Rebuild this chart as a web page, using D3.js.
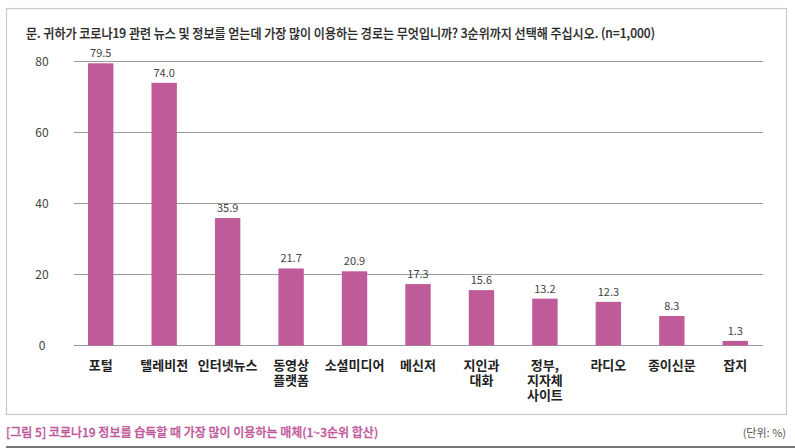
<!DOCTYPE html>
<html>
<head>
<meta charset="utf-8">
<script src="https://cdn.jsdelivr.net/npm/d3@7"></script>
<style>
  body { margin: 0; background: #fff; }
  svg text { font-family: "Noto Sans CJK KR", "Noto Sans", sans-serif; }
</style>
</head>
<body>
<div id="chart"></div>
<script>
const categories = ['포털', '텔레비전', '인터넷뉴스', '동영상\n플랫폼', '소셜미디어', '메신저', '지인과\n대화', '정부,\n지자체\n사이트', '라디오', '종이신문', '잡지'];
const values = [79.5, 74.0, 35.9, 21.7, 20.9, 17.3, 15.6, 13.2, 12.3, 8.3, 1.3];
const yTicks = [0, 20, 40, 60, 80];

const title = '문. 귀하가 코로나19 관련 뉴스 및 정보를 얻는데 가장 많이 이용하는 경로는 무엇입니까? 3순위까지 선택해 주십시오. (n=1,000)';
const caption = '[그림 5] 코로나19 정보를 습득할 때 가장 많이 이용하는 매체(1~3순위 합산)';
const unit = '(단위: %)';

const W = 795, H = 448;
const svg = d3.select('#chart').append('svg')
    .attr('width', W)
    .attr('height', H);

// frame
svg.append('rect')
    .attr('x', 6.5).attr('y', 8.5)
    .attr('width', 780).attr('height', 406)
    .attr('fill', 'none')
    .attr('stroke', '#c8c8c8')
    .attr('stroke-width', 1.2);

svg.append('text')
    .attr('x', 26).attr('y', 38)
    .attr('font-size', 13)
    .attr('font-weight', 500)
    .attr('fill', '#2a2a2a')
    .attr('stroke', '#2a2a2a')
    .attr('stroke-width', 0.2)
    .attr('textLength', 629)
    .attr('lengthAdjust', 'spacingAndGlyphs')
    .text(title);

const x = d3.scaleBand()
    .domain(categories)
    .range([69, 767])
    .paddingInner(0.6)
    .paddingOuter(0.3);

const y = d3.scaleLinear()
    .domain([0, 80])
    .range([345.5, 61.5]);

// grid
const grid = svg.append('g');
grid.selectAll('line')
    .data(yTicks)
    .join('line')
    .attr('x1', 74).attr('x2', 763)
    .attr('y1', d => y(d)).attr('y2', d => y(d))
    .attr('stroke', '#9a9a9a')
    .attr('stroke-width', 1.2);

grid.selectAll('text')
    .data(yTicks)
    .join('text')
    .attr('x', 42).attr('y', d => y(d) + 4)
    .attr('text-anchor', 'middle')
    .attr('font-size', 12)
    .attr('fill', '#444')
    .text(d => d);

svg.append('g').selectAll('rect')
    .data(values)
    .join('rect')
    .attr('x', (d, i) => x(categories[i]))
    .attr('width', x.bandwidth())
    .attr('y', d => y(d))
    .attr('height', d => y(0) - y(d))
    .attr('fill', '#bf5b98');

svg.append('g').selectAll('text')
    .data(values)
    .join('text')
    .attr('x', (d, i) => x(categories[i]) + x.bandwidth() / 2)
    .attr('y', d => y(d) - 6)
    .attr('text-anchor', 'middle')
    .attr('font-size', 11)
    .attr('fill', '#444')
    .text(d => d.toFixed(1));

// category labels, one text per line
const lines = categories.flatMap(c => c.split('\n').map((t, i) => ({ c, t, i })));
svg.append('g').selectAll('text')
    .data(lines)
    .join('text')
    .attr('x', d => x(d.c) + x.bandwidth() / 2)
    .attr('y', d => 370 + d.i * 15)
    .attr('text-anchor', 'middle')
    .attr('font-size', 13)
    .attr('font-weight', 700)
    .attr('fill', '#222')
    .text(d => d.t);

svg.append('text')
    .attr('x', 6).attr('y', 437)
    .attr('font-size', 12)
    .attr('font-weight', 500)
    .attr('fill', '#c0579a')
    .attr('stroke', '#c0579a')
    .attr('stroke-width', 0.3)
    .text(caption);

svg.append('text')
    .attr('x', 786).attr('y', 437)
    .attr('text-anchor', 'end')
    .attr('font-size', 11)
    .attr('fill', '#555')
    .text(unit);

svg.append('line')
    .attr('x1', 6).attr('x2', 795)
    .attr('y1', 447).attr('y2', 447)
    .attr('stroke', '#777')
    .attr('stroke-width', 2);
</script>
</body>
</html>
